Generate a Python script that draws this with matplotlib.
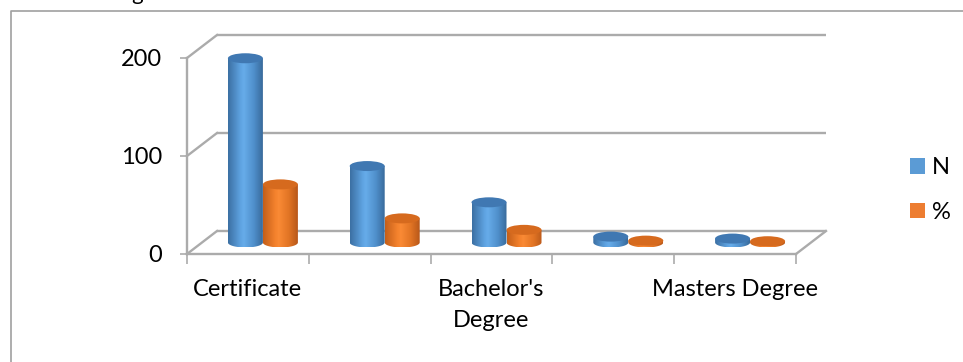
import numpy as np
import matplotlib
matplotlib.use("Agg")
import matplotlib.pyplot as plt
from matplotlib.patches import Ellipse, Polygon, Patch
from matplotlib.lines import Line2D

plt.rcParams['font.family'] = ['Lato', 'DejaVu Sans']

# ---------------------------------------------------------------------------
# data
# ---------------------------------------------------------------------------
categories = ["Certificate", "Diploma", "Bachelor's\nDegree",
              "Postgraduate Diploma", "Masters Degree"]
shown_labels = [0, 2, 4]          # excel skips every other label
n_values = [188, 78, 41, 6, 4]
pct_values = [59.3, 24.6, 12.9, 1.9, 1.3]
series_names = ["N", "%"]
y_ticks = [0, 100, 200]

# colours: body gradient (edge, light, mid, edge) and the top cap
blue_grad = ["#3C70A3", "#5EA2E0", "#67ACEA", "#4F8FCB", "#396B9C"]
blue_top = "#4078B2"
orange_grad = ["#C45F1A", "#F4822D", "#FA8A35", "#E17424", "#B8581A"]
orange_top = "#D66A1E"
grid_col = "#ABABAB"
FS = 17

W, H = 963, 362
fig = plt.figure(figsize=(W / 100, H / 100), dpi=100)
ax_l, ax_b, ax_w, ax_h = 187, 108, 609, 196      # front plane in pixels
ax = fig.add_axes([ax_l / W, ax_b / H, ax_w / W, ax_h / H])
ax.set_xlim(0, len(categories))
ax.set_ylim(0, 200)

# depth of the 3d box, converted to data units
DX = 30 / ax_w * len(categories)
DY = 23 / ax_h * 200

# ---------------------------------------------------------------------------
# walls / floor
# ---------------------------------------------------------------------------
for v in y_ticks:
    ax.plot([DX, len(categories) + DX], [v + DY, v + DY], color=grid_col,
            lw=1.7, clip_on=False, zorder=1, solid_capstyle='butt')
    ax.plot([0, DX], [v, v + DY], color=grid_col, lw=1.7, clip_on=False,
            zorder=1)
ax.plot([len(categories), len(categories) + DX], [0, DY], color=grid_col,
        lw=1.7, clip_on=False, zorder=1)

# ---------------------------------------------------------------------------
# cylinders
# ---------------------------------------------------------------------------
bw = 35 / ax_w * len(categories)
eh = 10 / ax_h * 200


def cylinder(x0, value, grad, top_col):
    x1 = x0 + bw
    base = DY / 2
    top = base + value
    cx = (x0 + x1) / 2
    t = np.linspace(np.pi, 2 * np.pi, 40)
    verts = list(zip(cx + bw / 2 * np.cos(t), base + eh / 2 * np.sin(t)))
    verts += [(x1, top), (x0, top)]
    body = Polygon(verts, closed=True, transform=ax.transData)
    cmap = matplotlib.colors.LinearSegmentedColormap.from_list(
        "g", list(zip([0, 0.35, 0.45, 0.75, 1.0], grad)))
    im = ax.imshow(np.linspace(0, 1, 64)[None, :], cmap=cmap, aspect='auto',
                   extent=(x0, x1, base - eh / 2, top), zorder=3,
                   interpolation='bilinear')
    im.set_clip_path(body)
    ax.add_patch(Ellipse((cx, top), bw, eh, facecolor=top_col,
                         edgecolor='none', zorder=4, clip_on=False))


for i in range(len(categories)):
    left = i + 0.5 + DX / 2 - bw
    cylinder(left, n_values[i], blue_grad, blue_top)
    cylinder(left + bw, pct_values[i], orange_grad, orange_top)

ax.set_xlim(0, len(categories))
ax.set_ylim(0, 200)

# ---------------------------------------------------------------------------
# axes styling
# ---------------------------------------------------------------------------
for s in ["top", "right"]:
    ax.spines[s].set_visible(False)
for s in ["left", "bottom"]:
    ax.spines[s].set_color(grid_col)
    ax.spines[s].set_linewidth(1.7)

ax.set_yticks(y_ticks)
ax.tick_params(axis='y', direction='out', length=5, width=1.2,
               color=grid_col, labelsize=FS, pad=13)
ax.set_xticks(range(len(categories) + 1))
ax.set_xticklabels([])
ax.tick_params(axis='x', which='major', direction='out', length=7,
               width=1.2, color=grid_col)
ax.set_xticks([i + 0.5 for i in shown_labels], minor=True)
ax.set_xticklabels([categories[i] for i in shown_labels], minor=True,
                   fontsize=FS, linespacing=1.6, va='top')
ax.tick_params(axis='x', which='minor', length=0, pad=18)

# legend
handles = [Patch(facecolor="#5B9BD5", edgecolor='none'),
           Patch(facecolor="#ED7D31", edgecolor='none')]
fig.legend(handles, series_names, loc='center left',
           bbox_to_anchor=(889 / W, 1 - 190 / H), frameon=False,
           fontsize=FS, handlelength=0.62, handleheight=0.62,
           handletextpad=0.3, labelspacing=1.0)

# chart frame and the tail of the caption above it
fig.add_artist(Line2D([11 / W, 11 / W, 1], [0, 1 - 11 / H, 1 - 11 / H],
                      transform=fig.transFigure, color="#A0A0A0", lw=1.2))
fig.text(137 / W, 1.0, "g", fontsize=16, ha='center', va='baseline')

fig.savefig("out.png", dpi=100)
